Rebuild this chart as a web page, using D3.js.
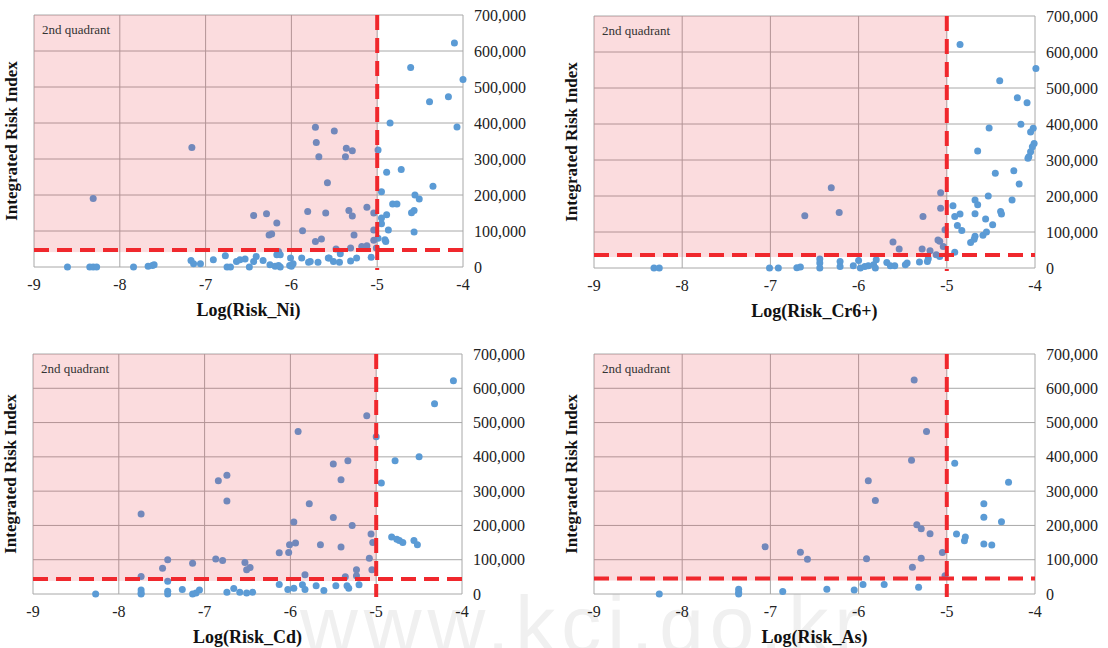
<!DOCTYPE html>
<html>
<head>
<meta charset="utf-8">
<script src="https://cdn.jsdelivr.net/npm/d3@7"></script>
<style>
  body { margin: 0; background: #fff; }
  svg { display: block; }
</style>
</head>
<body>
<svg id="chart" width="1108" height="648"></svg>
<script>
// each point: [log10(risk), integrated risk index in thousands]
var niPoints = [
  [-8.61,0],[-8.35,0],[-8.31,0],[-8.27,0],[-8.31,190],[-7.84,0],[-7.67,2],[-7.62,4],[-7.6,6],
  [-7.16,332],[-7.17,18],[-7.14,9],[-7.06,9],[-6.91,20],[-6.77,31],[-6.75,0],[-6.71,0],
  [-6.64,15],[-6.6,20],[-6.54,22],[-6.49,0],[-6.44,15],[-6.41,29],[-6.44,143],[-6.29,148],
  [-6.17,122],[-6.26,89],[-6.23,92],[-6.33,18],[-6.25,6],[-6.19,2],[-6.15,4],[-6.13,0],
  [-6.15,43],[-6.17,34],[-6.13,34],[-6.02,4],[-6.0,2],[-5.98,9],[-6.01,25],[-5.87,101],
  [-5.81,154],[-5.88,25],[-5.80,13],[-5.78,15],[-5.72,71],[-5.65,78],[-5.69,13],[-5.60,150],
  [-5.57,25],[-5.72,388],[-5.71,346],[-5.68,306],[-5.50,378],[-5.58,234],[-5.36,330],
  [-5.29,323],[-5.37,306],[-5.33,157],[-5.29,142],[-5.27,89],[-5.12,166],[-5.04,150],
  [-5.48,50],[-5.43,37],[-5.31,53],[-5.18,57],[-5.12,59],[-5.04,103],[-5.04,74],[-5.07,27],
  [-5.56,25],[-5.51,15],[-5.44,13],[-5.31,17],[-5.24,25],[-4.99,325],[-4.95,209],[-4.85,400],
  [-4.89,263],[-4.72,271],[-4.61,554],[-4.39,459],[-4.35,224],[-4.17,473],[-4.10,622],
  [-4.00,521],[-4.07,389],[-4.56,200],[-4.51,189],[-4.60,151],[-4.57,157],[-4.57,97],
  [-4.82,175],[-4.77,175],[-4.89,145],[-4.95,136],[-4.95,120],[-4.87,103],[-4.91,76],
  [-4.99,80],[-5.01,53],[-4.90,71]
];
var crPoints = [
  [-8.32,0],[-8.26,0],[-7.01,0],[-6.91,0],[-6.70,1],[-6.66,3],[-6.61,145],[-6.31,223],
  [-6.22,154],[-6.44,25],[-6.44,14],[-6.44,0],[-6.21,18],[-6.21,4],[-6.06,6],[-6.0,21],
  [-5.98,0],[-5.93,4],[-5.89,6],[-5.83,9],[-5.80,23],[-5.81,0],[-5.68,15],[-5.64,6],
  [-5.59,6],[-5.61,72],[-5.54,53],[-5.47,9],[-5.45,14],[-5.31,17],[-5.27,143],[-5.28,53],
  [-5.19,48],[-5.22,18],[-5.21,26],[-5.10,78],[-5.08,74],[-5.12,37],[-5.08,32],[-5.07,209],
  [-5.07,166],[-5.04,60],[-5.02,106],[-4.85,621],[-4.93,173],[-4.91,143],[-4.85,150],
  [-4.88,118],[-4.83,104],[-4.91,44],[-4.65,325],[-4.52,389],[-4.45,263],[-4.40,520],
  [-4.68,189],[-4.65,176],[-4.68,151],[-4.53,200],[-4.56,136],[-4.48,120],[-4.39,157],
  [-4.38,150],[-4.68,88],[-4.69,80],[-4.73,71],[-4.59,91],[-4.55,100],[-4.26,189],
  [-4.24,270],[-4.18,233],[-4.20,473],[-4.16,399],[-4.09,459],[-3.99,554],[-4.02,388],
  [-4.05,378],[-4.01,346],[-4.03,337],[-4.05,323],[-4.07,309],[-4.08,305]
];
var cdPoints = [
  [-8.27,0],[-7.74,233],[-7.74,51],[-7.74,12],[-7.74,3],[-7.74,0],[-7.49,75],[-7.43,100],
  [-7.43,37],[-7.43,8],[-7.43,0],[-7.26,13],[-7.14,90],[-7.14,0],[-7.10,3],[-7.06,12],
  [-6.84,330],[-6.74,346],[-6.74,271],[-6.87,102],[-6.79,98],[-6.74,5],[-6.66,16],
  [-6.59,5],[-6.51,3],[-6.44,5],[-6.53,92],[-6.51,71],[-6.47,77],[-6.13,120],[-6.13,28],
  [-6.02,121],[-6.01,144],[-5.94,149],[-5.96,210],[-5.91,474],[-5.78,263],[-6.03,13],
  [-5.96,17],[-5.83,56],[-5.86,27],[-5.83,13],[-5.70,24],[-5.61,10],[-5.65,144],[-5.50,379],
  [-5.33,389],[-5.41,333],[-5.50,223],[-5.41,137],[-5.28,200],[-5.47,24],[-5.36,50],
  [-5.34,24],[-5.32,17],[-5.23,71],[-5.23,53],[-5.20,27],[-5.11,520],[-5.06,175],
  [-5.04,150],[-5.08,104],[-5.05,71],[-5.00,459],[-4.94,324],[-4.78,389],[-4.50,400],
  [-4.82,166],[-4.76,160],[-4.73,156],[-4.69,150],[-4.56,156],[-4.52,144],[-4.32,555],
  [-4.10,622]
];
var asPoints = [
  [-8.26,0],[-7.36,14],[-7.36,5],[-7.36,0],[-7.06,138],[-6.86,7],[-6.66,122],[-6.58,101],
  [-6.36,14],[-6.05,12],[-5.95,28],[-5.71,28],[-5.89,330],[-5.81,273],[-5.91,103],
  [-5.37,624],[-5.23,474],[-5.40,390],[-5.34,202],[-5.29,190],[-5.19,176],[-5.29,104],
  [-5.39,78],[-5.32,20],[-5.05,121],[-5.02,53],[-4.91,381],[-4.89,175],[-4.79,166],
  [-4.80,155],[-4.58,263],[-4.58,224],[-4.38,211],[-4.58,146],[-4.49,143],[-4.30,326]
];

var xTicks = [-9, -8, -7, -6, -5, -4];
var yTicks = [0, 100, 200, 300, 400, 500, 600, 700];
var xCut = -5;

// layout of the four panels
var panels = [
  { name: "Log(Risk_Ni)",   data: niPoints, yCut: 47, left: 34,  right: 463,  top: 15,  bottom: 267 },
  { name: "Log(Risk_Cr6+)", data: crPoints, yCut: 36, left: 594, right: 1035, top: 16,  bottom: 268 },
  { name: "Log(Risk_Cd)",   data: cdPoints, yCut: 44, left: 33,  right: 462,  top: 354, bottom: 594 },
  { name: "Log(Risk_As)",   data: asPoints, yCut: 45, left: 594, right: 1035, top: 354, bottom: 594 }
];

var svg = d3.select("#chart");
var fmt = d3.format(",");
var serif = "'Liberation Serif', 'Times New Roman', serif";

// faint watermark from the scanned page
svg.append("text")
  .attr("x", 300).attr("y", 652)
  .attr("font-family", "'Liberation Sans', sans-serif")
  .attr("font-size", 80)
  .attr("letter-spacing", 6)
  .attr("fill", "#f0f0f0")
  .text("www.kci.go.kr");

panels.forEach(function (p) {
  var x = d3.scaleLinear().domain([-9, -4]).range([p.left, p.right]);
  var y = d3.scaleLinear().domain([0, 700]).range([p.bottom, p.top]);
  var g = svg.append("g");

  // grid
  g.selectAll(".vg").data(xTicks).enter().append("line")
    .attr("x1", function (d) { return x(d); }).attr("x2", function (d) { return x(d); })
    .attr("y1", p.top).attr("y2", p.bottom)
    .attr("stroke", "#a8a8a8").attr("stroke-width", 1);
  g.selectAll(".hg").data(yTicks).enter().append("line")
    .attr("x1", p.left).attr("x2", p.right)
    .attr("y1", function (d) { return y(d); }).attr("y2", function (d) { return y(d); })
    .attr("stroke", "#a8a8a8").attr("stroke-width", 1);

  // points
  g.selectAll("circle").data(p.data).enter().append("circle")
    .attr("cx", function (d) { return x(d[0]); })
    .attr("cy", function (d) { return y(d[1]); })
    .attr("r", 3.5)
    .attr("fill", "#5b9bd5");

  // 2nd quadrant shading, drawn on top like a translucent overlay
  g.append("rect")
    .attr("x", x(-9)).attr("y", y(700))
    .attr("width", x(xCut) - x(-9))
    .attr("height", y(p.yCut) + 2 - y(700))
    .attr("fill", "#e8323c").attr("fill-opacity", 0.17);

  // threshold lines
  g.append("line")
    .attr("x1", p.left).attr("x2", p.right)
    .attr("y1", y(p.yCut)).attr("y2", y(p.yCut))
    .attr("stroke", "#f0282d").attr("stroke-width", 4)
    .attr("stroke-dasharray", "15,8");
  g.append("line")
    .attr("x1", x(xCut)).attr("x2", x(xCut))
    .attr("y1", p.top).attr("y2", p.bottom + 3)
    .attr("stroke", "#f0282d").attr("stroke-width", 4)
    .attr("stroke-dasharray", "15,8");

  // label in the shaded quadrant
  g.append("text")
    .attr("x", p.left + 8).attr("y", p.top + 19)
    .attr("font-family", serif).attr("font-size", 13)
    .attr("fill", "#333")
    .text("2nd quadrant");

  // y tick labels on the right
  g.selectAll(".yl").data(yTicks).enter().append("text")
    .attr("x", p.right + 11)
    .attr("y", function (d) { return y(d); })
    .attr("dy", "0.35em")
    .attr("font-family", serif).attr("font-size", 16)
    .attr("fill", "#222")
    .text(function (d) { return fmt(d * 1000); });

  // x tick labels
  g.selectAll(".xl").data(xTicks).enter().append("text")
    .attr("x", function (d) { return x(d); })
    .attr("y", p.bottom + 23)
    .attr("text-anchor", "middle")
    .attr("font-family", serif).attr("font-size", 16)
    .attr("fill", "#222")
    .text(function (d) { return d; });

  // axis titles
  g.append("text")
    .attr("x", (p.left + p.right) / 2)
    .attr("y", p.bottom + 49)
    .attr("text-anchor", "middle")
    .attr("font-family", serif).attr("font-size", 18).attr("font-weight", "bold")
    .attr("fill", "#111")
    .text(p.name);
  g.append("text")
    .attr("transform", "translate(" + (p.left - 17) + "," + ((p.top + p.bottom) / 2) + ") rotate(-90)")
    .attr("text-anchor", "middle")
    .attr("font-family", serif).attr("font-size", 17).attr("font-weight", "bold")
    .attr("fill", "#111")
    .text("Integrated Risk Index");
});
</script>
</body>
</html>
